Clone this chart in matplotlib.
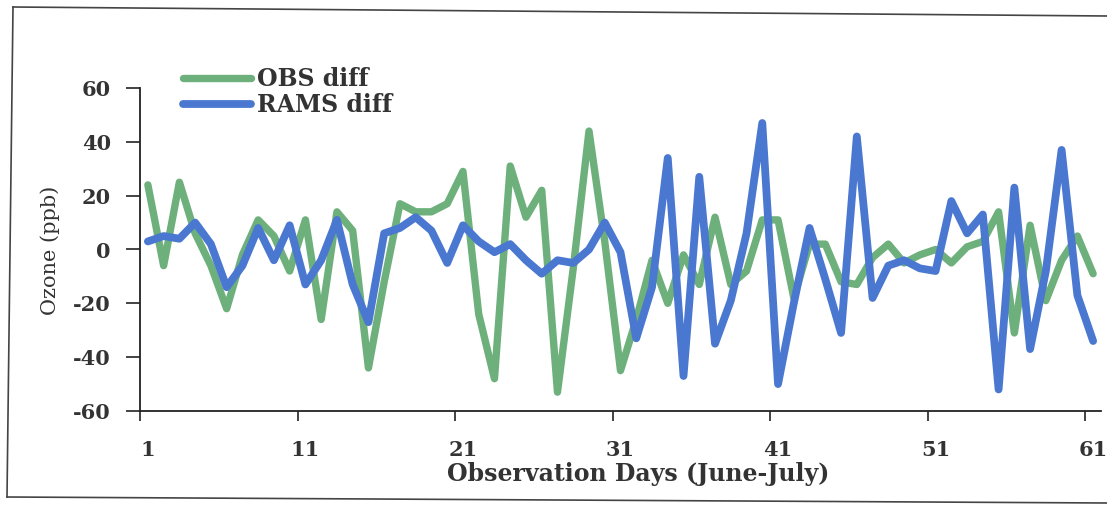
import matplotlib
matplotlib.use("Agg")
import matplotlib.pyplot as plt
from matplotlib.lines import Line2D
from matplotlib.ticker import FixedLocator, NullFormatter, FixedFormatter

plt.rcParams["axes.unicode_minus"] = False

# Observation days 1..61 (June-July)
days = list(range(1, 62))

obs_diff = [24, -6, 25, 6, -6, -22, -2, 11, 5, -8,
            11, -26, 14, 7, -44, -12, 17, 14, 14, 17,
            29, -24, -48, 31, 12, 22, -53, -7, 44, 3,
            -45, -26, -4, -20, -2, -13, 12, -13, -8, 11,
            11, -18, 2, 2, -12, -13, -3, 2, -5, -2,
            0, -5, 1, 3, 14, -31, 9, -19, -4, 5,
            -9]

rams_diff = [3, 5, 4, 10, 2, -14, -6, 8, -4, 9,
             -13, -4, 11, -13, -27, 6, 8, 12, 7, -5,
             9, 3, -1, 2, -4, -9, -4, -5, 0, 10,
             -1, -33, -14, 34, -47, 27, -35, -19, 6, 47,
             -50, -20, 8, -11, -31, 42, -18, -6, -4, -7,
             -8, 18, 6, 13, -52, 23, -37, -8, 37, -17,
             -34]

x_labels = ["1", "11", "21", "31", "41", "51", "61"]
y_ticks = [-60, -40, -20, 0, 20, 40, 60]

GREEN = "#6DB07C"
BLUE = "#4A77D0"
TEXT = "#333333"
SERIF = ["DejaVu Serif"]

W, H = 1107, 505
fig = plt.figure(figsize=(W / 100, H / 100), dpi=100)
ax = fig.add_axes([140 / W, 1 - 411 / H, (1101 - 140) / W, (411 - 88) / H])

ax.plot(days, obs_diff, color=GREEN, lw=5.3, solid_joinstyle="round",
        solid_capstyle="round", label="OBS diff", zorder=2)
ax.plot(days, rams_diff, color=BLUE, lw=5.6, solid_joinstyle="round",
        solid_capstyle="round", label="RAMS diff", zorder=3)

ax.set_xlim(0.5, 61.5)
ax.set_ylim(-60, 60)

# category-style axis: ticks between days, labels on the day
ax.xaxis.set_major_locator(FixedLocator([0.5 + 10 * i for i in range(7)]))
ax.xaxis.set_major_formatter(NullFormatter())
ax.xaxis.set_minor_locator(FixedLocator([int(s) for s in x_labels]))
ax.xaxis.set_minor_formatter(FixedFormatter(x_labels))
ax.tick_params(axis="x", which="major", direction="out", length=7, width=1.2, color="#222222")
ax.tick_params(axis="x", which="minor", length=0, pad=21)

ax.set_yticks(y_ticks)
ax.tick_params(axis="y", direction="out", length=10, width=1.2, color="#222222", pad=11)

for lab in ax.get_xticklabels(minor=True):
    lab.set_fontfamily(SERIF)
    lab.set_fontweight("bold")
    lab.set_fontsize(15)
    lab.set_color(TEXT)
for lab in ax.get_yticklabels():
    lab.set_fontfamily(SERIF)
    lab.set_fontweight("bold")
    lab.set_fontsize(15)
    lab.set_color(TEXT)

ax.spines["top"].set_visible(False)
ax.spines["right"].set_visible(False)
for s in ["left", "bottom"]:
    ax.spines[s].set_linewidth(1.3)
    ax.spines[s].set_color("#222222")

fig.text(638 / W, 1 - 474 / H, "Observation Days (June-July)", ha="center", va="center",
         family=SERIF, fontweight="bold", fontsize=17, color=TEXT)
fig.text(50 / W, 1 - 250 / H, "Ozone (ppb)", ha="center", va="center", rotation=90,
         family=SERIF, fontsize=15, color=TEXT)

leg = ax.legend(loc="upper left", bbox_to_anchor=(183 / W, 1 - 67 / H),
                bbox_transform=fig.transFigure, frameon=False, borderpad=0,
                borderaxespad=0, handlelength=2.9, handletextpad=0.25,
                labelspacing=0.1, prop={"family": SERIF, "weight": "bold", "size": 17})
for t in leg.get_texts():
    t.set_color(TEXT)

# scanned page frame
frame_kw = dict(transform=fig.transFigure, color="#444444", lw=1.2)
fig.add_artist(Line2D([13 / W, 1.0], [1 - 7 / H, 1 - 16 / H], **frame_kw))
fig.add_artist(Line2D([13 / W, 7 / W], [1 - 7 / H, 1 - 497 / H], **frame_kw))
fig.add_artist(Line2D([7 / W, 1.0], [1 - 497 / H, 1 - 503 / H], **frame_kw))

fig.savefig("out.png", dpi=100)
